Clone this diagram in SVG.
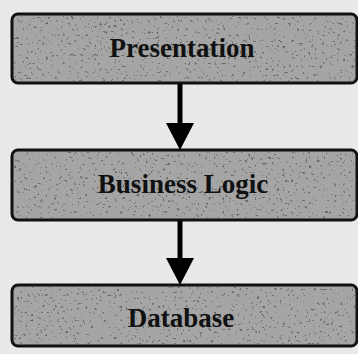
<svg xmlns="http://www.w3.org/2000/svg" width="358" height="354" viewBox="0 0 358 354">
<style>
.box{fill:#a4a5a4;stroke:#111;stroke-width:3}
.spk{filter:url(#speck);opacity:0.75}
.lbl{font-family:"Liberation Serif",serif;font-weight:bold;font-size:27px;fill:#111;text-anchor:middle}
.conn{stroke:#000;stroke-width:5;fill:none}
.head{fill:#000}
</style>
<defs>
<filter id="speck" x="0" y="0" width="1" height="1">
<feTurbulence type="fractalNoise" baseFrequency="0.35" numOctaves="2" seed="7"/>
<feColorMatrix type="matrix" values="0 0 0 0 0.1  0 0 0 0 0.1  0 0 0 0 0.1  -16 0 0 0 5.4"/>
</filter>
</defs>
<rect width="358" height="354" fill="#e8e9e8"/>
<g id="presentation">
<rect class="box" x="12" y="14" width="345" height="69" rx="6"/>
<rect class="spk" x="14" y="16" width="341" height="65"/>
<text class="lbl" x="182" y="57">Presentation</text>
</g>
<g id="business-logic">
<rect class="box" x="12" y="150" width="345" height="70" rx="6"/>
<rect class="spk" x="14" y="152" width="341" height="66"/>
<text class="lbl" x="183" y="193">Business Logic</text>
</g>
<g id="database">
<rect class="box" x="12" y="285" width="345" height="61" rx="6"/>
<rect class="spk" x="14" y="287" width="341" height="57"/>
<text class="lbl" x="181" y="327">Database</text>
</g>
<g id="connectors">
<line class="conn" x1="180" y1="84" x2="180" y2="125"/>
<polygon class="head" points="166,123 194,123 180,150"/>
<line class="conn" x1="180" y1="221" x2="180" y2="260"/>
<polygon class="head" points="166,258 194,258 180,285"/>
</g>
</svg>
